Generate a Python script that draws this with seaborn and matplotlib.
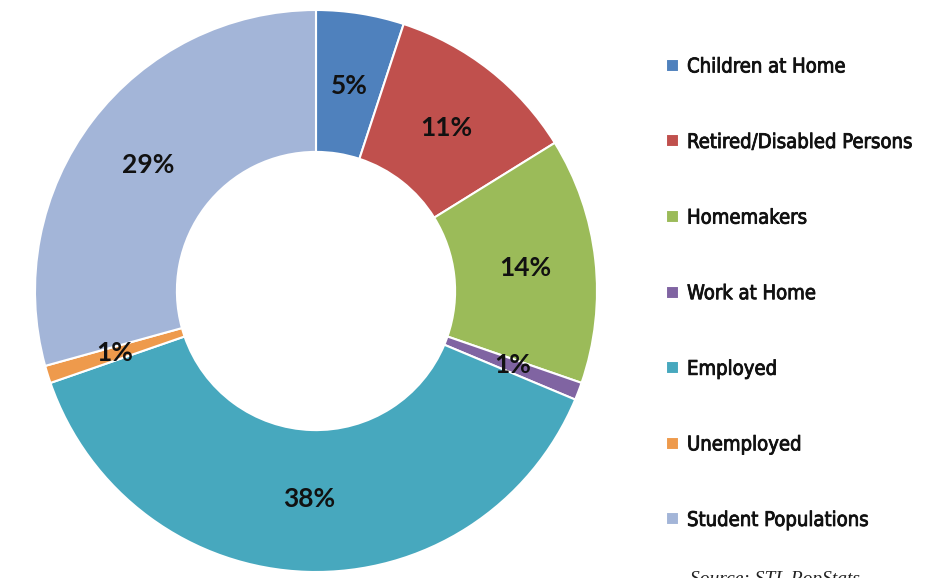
import matplotlib
matplotlib.use("Agg")
import matplotlib.pyplot as plt
import matplotlib.patheffects as pe
import seaborn as sns
import numpy as np

categories = ["Children at Home", "Retired/Disabled Persons", "Homemakers",
              "Work at Home", "Employed", "Unemployed", "Student Populations"]
shares = [5, 11, 14, 1, 38, 1, 29]
colors = ["#4F81BD", "#C0504D", "#9BBB59", "#8064A2",
          "#47A8BE", "#EE9A4C", "#A3B5D8"]

sns.set_theme(style="white")
plt.rcParams['font.family'] = ['DejaVu Sans']

fig = plt.figure(figsize=(9.41, 5.78), dpi=100)
lim = 1.03
r_px = 281 * lim
ax = fig.add_axes([(316 - r_px) / 941, (287 - r_px) / 578,
                   2 * r_px / 941, 2 * r_px / 578])

wedges, _ = ax.pie(shares, colors=sns.color_palette(colors), startangle=90,
                   counterclock=False, radius=1.0,
                   wedgeprops=dict(width=0.505, edgecolor="white", linewidth=1.5))

# percentage labels in the middle of the ring
total = sum(shares)
cum = 0
for v in shares:
    mid = 90 - 360 * (cum + v / 2) / total
    cum += v
    x = 0.75 * np.cos(np.radians(mid))
    y = 0.74 * np.sin(np.radians(mid))
    ax.text(x, y, f"{v}%", ha="center", va="center", fontsize=19,
            fontweight="bold", family=["Lato", "DejaVu Sans"], color="#111111")

ax.set_xlim(-lim, lim)
ax.set_ylim(-lim, lim)
ax.set_aspect("equal")
ax.axis("off")

leg = fig.legend(wedges, categories, loc="upper left",
                 bbox_to_anchor=(0.689, 0.932), frameon=False,
                 prop=dict(family="DejaVu Sans", stretch="condensed", size=14.5),
                 handlelength=0.62, handleheight=0.62,
                 handletextpad=0.4, labelspacing=2.81)
for t in leg.get_texts():
    t.set_color("#111111")
    t.set_path_effects([pe.withStroke(linewidth=0.6, foreground="#111111")])

fig.text(0.733, -0.010, "Source: STL PopStats", fontsize=14, style="italic",
         family=["Liberation Serif", "DejaVu Serif"], color="#222222",
         va="baseline")

fig.savefig("out.png", dpi=100)
